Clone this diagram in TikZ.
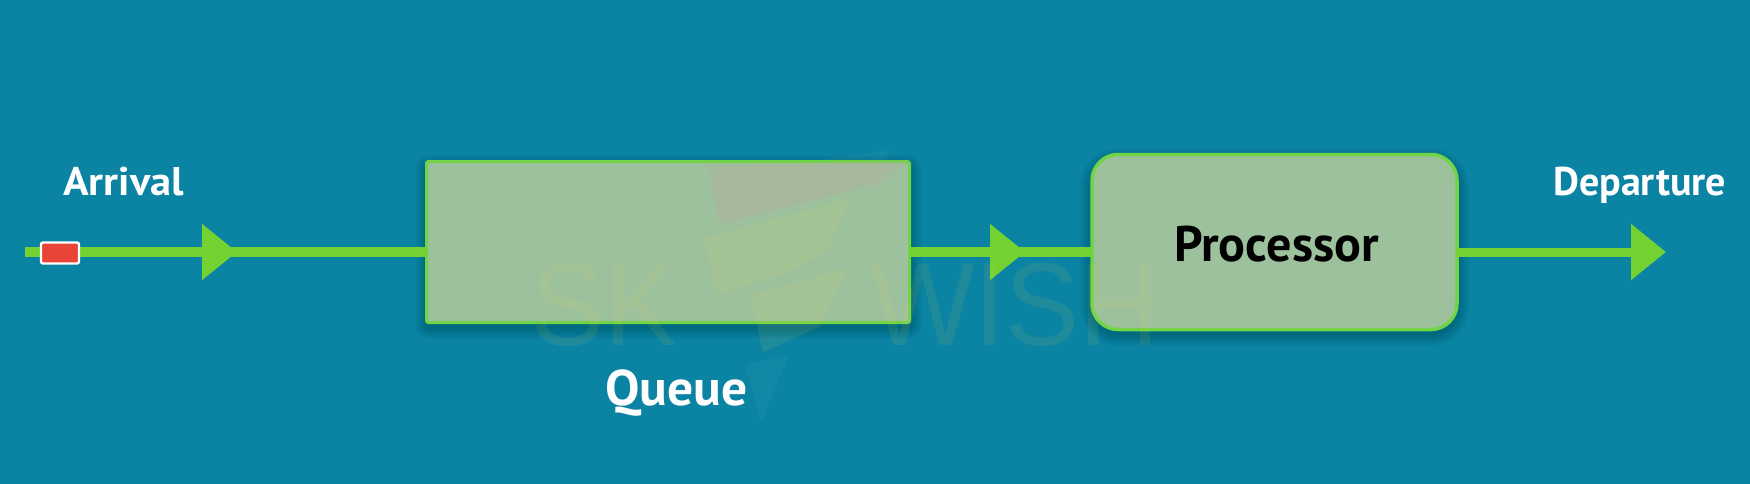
\documentclass[tikz,border=0pt]{standalone}
\usepackage{fontspec}
\setmainfont{PT Sans}
\usetikzlibrary{arrows.meta}
\definecolor{bgblue}{RGB}{11,131,163}
\definecolor{flowgreen}{RGB}{115,210,50}
\definecolor{boxfill}{RGB}{157,193,157}
\definecolor{boxedge}{RGB}{112,212,70}
\definecolor{chipred}{RGB}{232,69,56}
\definecolor{markyellow}{RGB}{225,215,70}
\definecolor{markgrey}{RGB}{190,165,165}
\newcommand{\softshade}[5]{\foreach \d in {1,...,12}{\fill[black,opacity=.016,rounded corners=#5+\d*1pt] (#1-\d+1,#2-\d+7) rectangle (#3+\d-1,#4+\d+3);}}
\tikzset{
  flow/.style={draw=flowgreen,line width=10pt},
  flowtip/.style={draw=flowgreen,line width=10pt,-{Triangle[length=35pt,width=54pt,fill=flowgreen]}},
  flowtiplong/.style={draw=flowgreen,line width=9pt,-{Triangle[length=35pt,width=54pt,fill=flowgreen]}},
  queuebox/.style={draw=boxedge,line width=3pt,fill=boxfill,rounded corners=2pt,minimum width=483pt,minimum height=161pt,inner sep=0pt,outer sep=0pt},
  procbox/.style={draw=boxedge,line width=3.5pt,fill=boxfill,rounded corners=26pt,minimum width=365pt,minimum height=175pt,inner sep=0pt,outer sep=0pt},
  chip/.style={draw=white,line width=2.4pt,fill=chipred,rounded corners=2pt,minimum width=38pt,minimum height=21pt,inner sep=0pt},
  label/.style={inner sep=0pt,anchor=base west,font=\bfseries},
  wmark/.style={inner sep=0pt,anchor=base west,text=markyellow,text opacity=.09},
  wshape/.style={fill=markyellow,fill opacity=.10,draw=none},
  wgrey/.style={fill=markgrey,fill opacity=.28,draw=none},
  wfaint/.style={fill=white,fill opacity=.035,draw=none}
}
\begin{document}
\begin{tikzpicture}[x=1pt,y=-1pt]
\useasboundingbox (0,0) rectangle (1750,484);
\fill[bgblue] (0,0) rectangle (1750,484);
% soft shadows
\softshade{426}{160}{911}{324}{2pt}
\softshade{1091}{153}{1458}{331}{26pt}
% anchors
\coordinate (in) at (25,252);
\coordinate (h1) at (237,252);
\coordinate (j1) at (215,252);
\coordinate (h2) at (1025,252);
\coordinate (j2) at (1003,252);
\coordinate (out) at (1666,252);
\node[queuebox] (queue) at (668,242) {};
\node[procbox] (proc) at (1274.5,242) {};
% connectors
\draw[flowtip] (in) -- (h1);
\draw[flow] (j1) -- (queue.west |- j1);
\draw[flowtip] (queue.east |- h2) -- (h2);
\draw[flow] (j2) -- (proc.west |- j2);
\draw[flowtiplong] (proc.east |- out) -- (out);
\node[chip] (item) at (60,253) {};
% watermark
\fill[wgrey] (708,165) -- (908,161) -- (880,183) -- (719,225) -- cycle;
\fill[wfaint] (820,160) -- (891,150) -- (885,160) -- cycle;
\fill[wshape] (704,238) -- (850,198) -- (828,250) -- (790,272) -- (716,295) -- cycle;
\fill[wshape] (750,295) -- (848,268) -- (819,327) -- (763,352) -- cycle;
\fill[wfaint] (745,365) -- (789,355) -- (761,422) -- cycle;
\node[wmark] (wsk) at (531,345) {\scalebox{.93}[1]{\fontspec{Liberation Sans}\fontsize{118}{118}\selectfont SK}};
\node[wmark] (wwish) at (870,345) {\scalebox{.94}[1]{\fontspec{Liberation Sans}\fontsize{118}{118}\selectfont WISH}};
% labels
\node[label,text=white] (arrival) at (63,195) {\scalebox{1.06}[1]{\fontsize{40}{40}\selectfont Arrival}};
\node[label,text=white] (queuetxt) at (605,405) {\scalebox{1.03}[1]{\fontsize{50}{50}\selectfont Queue}};
\node[label,text=black] (proctxt) at (1174,261) {\fontsize{50}{50}\selectfont Processor};
\node[label,text=white] (departure) at (1553,195) {\fontsize{40}{40}\selectfont Departure};
\end{tikzpicture}
\end{document}
